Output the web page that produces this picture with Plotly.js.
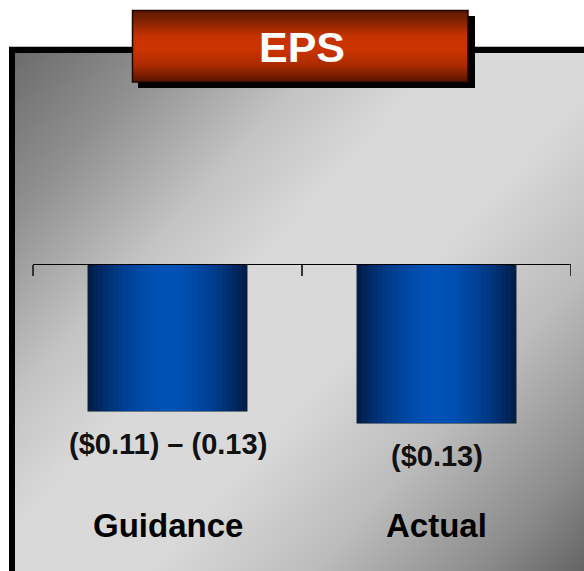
<!DOCTYPE html>
<html>
<head>
<meta charset="utf-8">
<script src="https://cdn.plot.ly/plotly-3.0.1.min.js"></script>
<style>
  html, body { margin: 0; padding: 0; background: #ffffff; }
  #chart { width: 584px; height: 571px; }
</style>
</head>
<body>
<div id="chart"></div>
<script>
// EPS: guidance range vs. actual result (per share, negative)
const categories = ['Guidance', 'Actual'];
const epsValues = [-0.12, -0.13];
const valueLabels = ['($0.11) \u2013 (0.13)', '($0.13)'];
const chartTitle = 'EPS';

const W = 584, H = 571;
const px = x => x / W;          // pixel -> paper x
const py = y => 1 - y / H;      // pixel -> paper y

const FONT = 'Arial, "Liberation Sans", Helvetica, sans-serif';

// Cylinder-like shading: stacked overlaid bars, narrowing toward a brighter core
const BAR_WIDTH = 0.59;
const LAYERS = 16;
const edgeRGB = [0, 30, 76];
const coreRGB = [0, 82, 184];
const traces = [];
for (let k = 0; k < LAYERS; k++) {
  const f = k / LAYERS;
  const t = 1 - Math.pow(1 - f, 1.8);
  const c = edgeRGB.map((e, i) => Math.round(e + (coreRGB[i] - e) * t));
  traces.push({
    type: 'bar',
    x: categories,
    y: epsValues,
    width: categories.map(() => BAR_WIDTH * (1 - f)),
    marker: {
      color: `rgb(${c[0]},${c[1]},${c[2]})`,
      line: { color: '#001733', width: k === 0 ? 1.2 : 0 }
    },
    hoverinfo: 'skip',
    showlegend: false
  });
}
// empty trace that carries the boundary-tick axis
traces.push({ type: 'scatter', x: [], y: [], xaxis: 'x2', yaxis: 'y',
              hoverinfo: 'skip', showlegend: false });

// category boundaries: before the first, between each pair, after the last
const boundaries = categories.map((_, i) => i - 0.5).concat([categories.length - 0.5]);

// Panel background: diagonal grey sweep, dark corners, light middle band
const bgSvg =
  "<svg xmlns='http://www.w3.org/2000/svg' width='575' height='524' viewBox='0 0 575 524' preserveAspectRatio='none'>" +
  "<defs><linearGradient id='g' gradientUnits='userSpaceOnUse' x1='6' y1='6' x2='575' y2='524'>" +
  "<stop offset='0' stop-color='#6c6c6c'/>" +
  "<stop offset='0.14' stop-color='#8f8f8f'/>" +
  "<stop offset='0.3' stop-color='#c3c3c3'/>" +
  "<stop offset='0.42' stop-color='#d9d9d9'/>" +
  "<stop offset='0.58' stop-color='#d9d9d9'/>" +
  "<stop offset='0.74' stop-color='#bcbcbc'/>" +
  "<stop offset='0.9' stop-color='#8c8c8c'/>" +
  "<stop offset='1' stop-color='#646464'/>" +
  "</linearGradient></defs><rect width='575' height='524' fill='url(#g)'/></svg>";

// Title plate: vertical dark-bright-dark red
const plateSvg =
  "<svg xmlns='http://www.w3.org/2000/svg' width='336' height='72' viewBox='0 0 336 72' preserveAspectRatio='none'>" +
  "<defs><linearGradient id='r' x1='0' y1='0' x2='0' y2='1'>" +
  "<stop offset='0' stop-color='#5a1600'/>" +
  "<stop offset='0.12' stop-color='#782000'/>" +
  "<stop offset='0.36' stop-color='#c53200'/>" +
  "<stop offset='0.55' stop-color='#cc3300'/>" +
  "<stop offset='0.78' stop-color='#a82a00'/>" +
  "<stop offset='1' stop-color='#551400'/>" +
  "</linearGradient></defs><rect width='336' height='72' fill='url(#r)'/></svg>";

const svgURI = s => 'data:image/svg+xml;charset=utf-8,' + encodeURIComponent(s);

// y scale: value 0 sits on the axis line, -0.13 reaches the lower bar edge
const Y_TOP = 265, PX_PER_UNIT = 158 / 0.13, Y_MIN = -0.2;
const yBottomPx = Y_TOP - Y_MIN * PX_PER_UNIT;

const annotations = [];
categories.forEach((cat, i) => {
  annotations.push({
    x: cat, y: epsValues[i], xref: 'x', yref: 'y',
    text: valueLabels[i], showarrow: false,
    xanchor: 'center', yanchor: 'middle', yshift: -33,
    font: { family: FONT, size: 29, color: '#111111', weight: 700 }
  });
  annotations.push({
    x: cat, y: py(525), xref: 'x', yref: 'paper',
    text: cat, showarrow: false,
    xanchor: 'center', yanchor: 'middle',
    font: { family: FONT, size: 33, color: '#000000', weight: 700 }
  });
});
annotations.push({
  x: px(301.5), y: py(47), xref: 'paper', yref: 'paper',
  text: chartTitle, showarrow: false,
  xanchor: 'center', yanchor: 'middle',
  font: { family: FONT, size: 43, color: '#ffffff', weight: 700 }
});

// category axis spans pixels 33..571
const X0 = 33, X1 = 571;
const xRange = [-0.5, categories.length - 0.5];
const pxPerCat = (X1 - X0) / (xRange[1] - xRange[0]);
// tick axis: same scale, padded so its outermost ticks are not at the range ends
const TICK_PAD = 0.05;
const tickRange = [xRange[0] - TICK_PAD, xRange[1] + TICK_PAD];
const tickDomain = [px(X0 - TICK_PAD * pxPerCat), px(X1 + TICK_PAD * pxPerCat)];

const layout = {
  width: W, height: H,
  margin: { l: 0, r: 0, t: 0, b: 0, pad: 0 },
  paper_bgcolor: '#ffffff',
  plot_bgcolor: 'rgba(0,0,0,0)',
  barmode: 'overlay',
  showlegend: false,
  xaxis: {
    type: 'category',
    domain: [px(X0), px(X1)],
    range: xRange,
    anchor: 'y',
    side: 'top',
    showline: true, linecolor: '#000000', linewidth: 1,
    ticks: '',
    showticklabels: false, showgrid: false, zeroline: false,
    fixedrange: true
  },
  // boundary ticks hanging below the baseline
  xaxis2: {
    type: 'linear',
    domain: tickDomain,
    range: tickRange,
    anchor: 'y',
    side: 'top',
    showline: false,
    tickmode: 'array', tickvals: boundaries,
    ticks: 'inside', ticklen: 11, tickwidth: 1.5, tickcolor: '#333333',
    showticklabels: false, showgrid: false, zeroline: false,
    fixedrange: true
  },
  yaxis: {
    domain: [py(yBottomPx), py(Y_TOP)],
    range: [Y_MIN, 0],
    visible: false,
    showgrid: false, zeroline: false,
    fixedrange: true
  },
  images: [
    {
      source: svgURI(bgSvg), xref: 'paper', yref: 'paper',
      x: px(9), y: py(47), sizex: 575 / W, sizey: 524 / H,
      xanchor: 'left', yanchor: 'top', sizing: 'stretch', layer: 'below'
    },
    {
      source: svgURI(plateSvg), xref: 'paper', yref: 'paper',
      x: px(132), y: py(10), sizex: 336 / W, sizey: 72 / H,
      xanchor: 'left', yanchor: 'top', sizing: 'stretch', layer: 'above'
    }
  ],
  shapes: [
    // thin grey hairline over the panel frame
    { type: 'line', xref: 'paper', yref: 'paper', layer: 'below',
      x0: px(9), x1: px(590), y0: py(46.5), y1: py(46.5),
      line: { color: '#bdbdbd', width: 1 } },
    // heavy black panel frame (open to the right and bottom)
    { type: 'rect', xref: 'paper', yref: 'paper', layer: 'below',
      x0: px(12), x1: px(600), y0: py(50), y1: py(620),
      line: { color: '#000000', width: 6 }, fillcolor: 'rgba(0,0,0,0)' },
    // title plate drop shadow
    { type: 'rect', xref: 'paper', yref: 'paper', layer: 'below',
      x0: px(138), x1: px(475), y0: py(16), y1: py(88),
      line: { width: 0 }, fillcolor: '#000000' },
    // title plate outline
    { type: 'rect', xref: 'paper', yref: 'paper', layer: 'above',
      x0: px(132.5), x1: px(468), y0: py(10.5), y1: py(82),
      line: { color: '#1e0700', width: 1.5 }, fillcolor: 'rgba(0,0,0,0)' }
  ],
  annotations: annotations
};

Plotly.newPlot('chart', traces, layout, { staticPlot: true, displayModeBar: false });
</script>
</body>
</html>
